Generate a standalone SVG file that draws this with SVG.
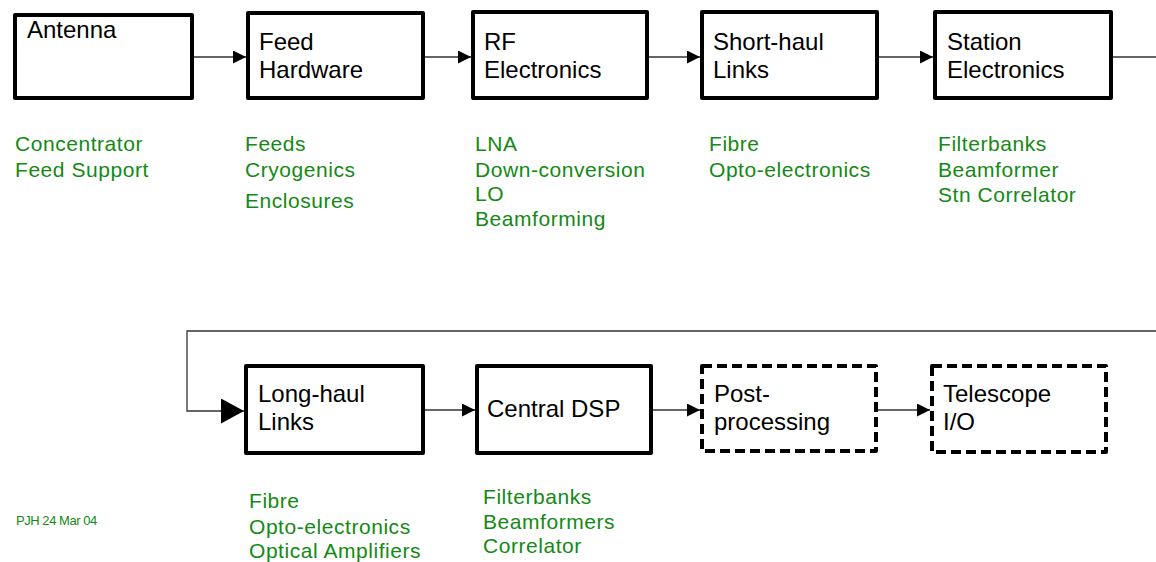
<svg xmlns="http://www.w3.org/2000/svg" width="1156" height="562" viewBox="0 0 1156 562">
<style>
.box{fill:#fff;stroke:#000;stroke-width:4;stroke-linejoin:round}
.dash{stroke-dasharray:10 5}
.lbl{font-family:"Liberation Sans",Arial,sans-serif;font-size:24px;fill:#000}
.sub{font-family:"Liberation Sans",Arial,sans-serif;font-size:21px;letter-spacing:0.55px;fill:#138a13}
.note{font-family:"Liberation Sans",Arial,sans-serif;font-size:13px;letter-spacing:-0.45px;fill:#138a13}
.con{fill:none;stroke:#333;stroke-width:1.3}
</style>
<defs>
<marker id="ah" markerUnits="userSpaceOnUse" markerWidth="14" markerHeight="13" refX="13" refY="6.5" orient="auto"><path d="M0,0 L13,6.5 L0,13 z" fill="#000"/></marker>
<marker id="ahbig" markerUnits="userSpaceOnUse" markerWidth="24" markerHeight="26" refX="23" refY="12.5" orient="auto"><path d="M0,0 L23,12.5 L0,25 z" fill="#000"/></marker>
</defs>
<g id="connectors">
<line class="con" x1="194" y1="57" x2="246" y2="57" marker-end="url(#ah)"/>
<line class="con" x1="425" y1="57" x2="471" y2="57" marker-end="url(#ah)"/>
<line class="con" x1="649" y1="57" x2="700" y2="57" marker-end="url(#ah)"/>
<line class="con" x1="879" y1="57" x2="933" y2="57" marker-end="url(#ah)"/>
<path class="con" d="M1113,57 H1156"/>
<path class="con" d="M1156,331 H187 V411 H244" marker-end="url(#ahbig)"/>
<line class="con" x1="425" y1="410" x2="475" y2="410" marker-end="url(#ah)"/>
<line class="con" x1="653" y1="410" x2="700" y2="410" marker-end="url(#ah)"/>
<line class="con" x1="878" y1="410" x2="930" y2="410" marker-end="url(#ah)"/>
</g>
<g id="antenna">
<rect class="box" x="15" y="15" width="177" height="83"/>
<text class="lbl" x="27" y="38">Antenna</text>
<text class="sub" x="15" y="151">Concentrator</text>
<text class="sub" x="15" y="177">Feed Support</text>
</g>
<g id="feed">
<rect class="box" x="248" y="13" width="175" height="85"/>
<text class="lbl" x="259" y="50">Feed</text>
<text class="lbl" x="259" y="78">Hardware</text>
<text class="sub" x="245" y="151">Feeds</text>
<text class="sub" x="245" y="177">Cryogenics</text>
<text class="sub" x="245" y="208">Enclosures</text>
</g>
<g id="rf">
<rect class="box" x="473" y="12" width="174" height="86"/>
<text class="lbl" x="484" y="50">RF</text>
<text class="lbl" x="484" y="78">Electronics</text>
<text class="sub" x="475" y="151">LNA</text>
<text class="sub" x="475" y="177">Down-conversion</text>
<text class="sub" x="475" y="201">LO</text>
<text class="sub" x="475" y="226">Beamforming</text>
</g>
<g id="shorthaul">
<rect class="box" x="702" y="12" width="175" height="86"/>
<text class="lbl" x="713" y="50">Short-haul</text>
<text class="lbl" x="713" y="78">Links</text>
<text class="sub" x="709" y="151">Fibre</text>
<text class="sub" x="709" y="177">Opto-electronics</text>
</g>
<g id="station">
<rect class="box" x="935" y="12" width="176" height="86"/>
<text class="lbl" x="947" y="50">Station</text>
<text class="lbl" x="947" y="78">Electronics</text>
<text class="sub" x="938" y="151">Filterbanks</text>
<text class="sub" x="938" y="177">Beamformer</text>
<text class="sub" x="938" y="202">Stn Correlator</text>
</g>
<g id="longhaul">
<rect class="box" x="246" y="366" width="177" height="87"/>
<text class="lbl" x="258" y="402">Long-haul</text>
<text class="lbl" x="258" y="430">Links</text>
<text class="sub" x="249" y="508">Fibre</text>
<text class="sub" x="249" y="534">Opto-electronics</text>
<text class="sub" x="249" y="558">Optical Amplifiers</text>
</g>
<g id="centraldsp">
<rect class="box" x="477" y="366" width="174" height="87"/>
<text class="lbl" x="487" y="417">Central DSP</text>
<text class="sub" x="483" y="504">Filterbanks</text>
<text class="sub" x="483" y="529">Beamformers</text>
<text class="sub" x="483" y="553">Correlator</text>
</g>
<g id="postprocessing">
<rect class="box dash" x="702" y="366" width="174" height="85"/>
<text class="lbl" x="714" y="402">Post-</text>
<text class="lbl" x="714" y="430">processing</text>
</g>
<g id="telescope">
<rect class="box dash" x="932" y="366" width="174" height="86"/>
<text class="lbl" x="943" y="402">Telescope</text>
<text class="lbl" x="943" y="430">I/O</text>
</g>
<g id="footnote">
<text class="note" x="16" y="525">PJH 24 Mar 04</text>
</g>
</svg>
